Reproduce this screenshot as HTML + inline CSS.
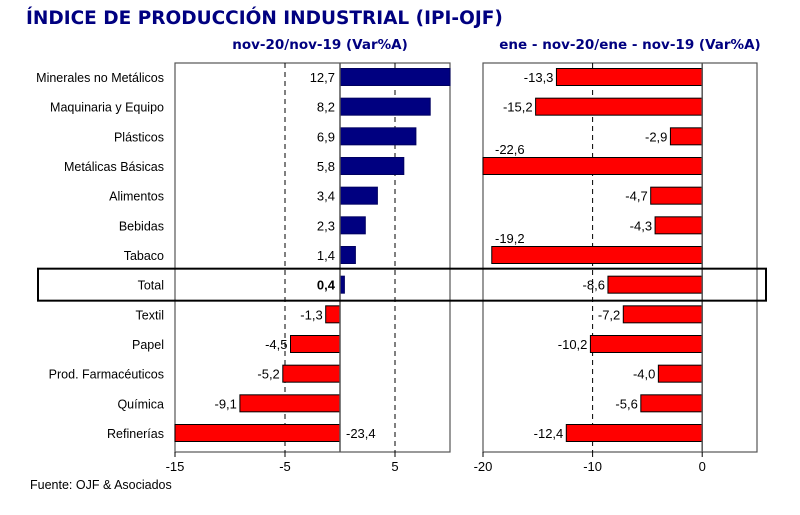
<!DOCTYPE html>
<html><head><meta charset="utf-8"><style>
body{margin:0;background:#fff;width:800px;height:510px;overflow:hidden}
svg text{font-family:"Liberation Sans",sans-serif}
</style></head><body>
<svg id="chart" width="800" height="510" xmlns="http://www.w3.org/2000/svg">
<text x="26" y="24" style="font-family:'DejaVu Sans',sans-serif" font-weight="bold" font-size="18.5" fill="#000080">ÍNDICE DE PRODUCCIÓN INDUSTRIAL (IPI-OJF)</text>
<text x="320" y="49" text-anchor="middle" style="font-family:'DejaVu Sans',sans-serif" font-weight="bold" font-size="13.5" fill="#000080">nov-20/nov-19  (Var%A)</text>
<text x="630" y="49" text-anchor="middle" style="font-family:'DejaVu Sans',sans-serif" font-weight="bold" font-size="13.5" fill="#000080">ene - nov-20/ene - nov-19  (Var%A)</text>
<g id="g"></g>
<text x="30" y="489" font-size="12.5" fill="#000">Fuente: OJF &amp; Asociados</text>
</svg>
<script>
const categories=["Minerales no Metálicos","Maquinaria y Equipo","Plásticos","Metálicas Básicas","Alimentos","Bebidas","Tabaco","Total","Textil","Papel","Prod. Farmacéuticos","Química","Refinerías"];
const monthlyValues=[12.7,8.2,6.9,5.8,3.4,2.3,1.4,0.4,-1.3,-4.5,-5.2,-9.1,-23.4];
const cumulativeValues=[-13.3,-15.2,-2.9,-22.6,-4.7,-4.3,-19.2,-8.6,-7.2,-10.2,-4.0,-5.6,-12.4];
const leftTicks=[-15,-5,5];
const rightTicks=[-20,-10,0];
const NS="http://www.w3.org/2000/svg";
const g=document.getElementById('g');
function el(t,a,txt){const e=document.createElementNS(NS,t);for(const k in a)e.setAttribute(k,a[k]);if(txt!==undefined)e.textContent=txt;g.appendChild(e);return e;}
const plotTop=63,plotBottom=452,row0=77,rowStep=(433-77)/12,barH=17;
const yRow=i=>row0+i*rowStep;
const fmt=v=>v.toFixed(1).replace('.',',');
function panel(vals,min,max,x0,x1,ticks,name,labelMode){
  const sx=v=>x0+(v-min)/(max-min)*(x1-x0);
  let e=el('rect',{x:x0,y:plotTop,width:x1-x0,height:plotBottom-plotTop,fill:'#fff',stroke:'#555','stroke-width':1.2});
  
  ticks.forEach(t=>{
    const x=sx(t);
    if(t!==0&&t!==min){e=el('line',{x1:x,x2:x,y1:plotTop,y2:plotBottom,stroke:'#000','stroke-dasharray':'5,4','stroke-width':1});
    }
    e=el('line',{x1:x,x2:x,y1:plotBottom,y2:plotBottom+5,stroke:'#000'});
    
    e=el('text',{x:x,y:plotBottom+19,'text-anchor':'middle','font-size':13},String(t));
    
  });
  const z=sx(0);
  vals.forEach((v,i)=>{
    const y=yRow(i);
    const cv=Math.max(min,Math.min(max,v));
    const xa=Math.min(sx(cv),z),w=Math.abs(sx(cv)-z);
    const pos=v>=0;
    e=el('rect',{x:xa,y:y-barH/2,width:Math.max(w,2),height:barH,fill:pos?'#000080':'#ff0000',stroke:pos?'#000060':'#000','stroke-width':1});
    
    let lx,ly=y+5,anc='end';
    if(labelMode==='left'){
      if(pos){lx=z-5;}
      else if(v<min){lx=z+6;anc='start';}
      else lx=sx(v)-3;
    }else{
      const endX=sx(cv);
      if(endX-40<x0){lx=x0+12;ly=y-12;anc='start';}
      else lx=endX-3;
    }
    const bold=(labelMode==='left'&&categories[i]==='Total');
    e=el('text',{x:lx,y:ly,'text-anchor':anc,'font-size':13,'font-weight':bold?'bold':'normal'},fmt(v));
    
  });
  e=el('line',{x1:z,x2:z,y1:plotTop,y2:plotBottom,stroke:'#555','stroke-width':1.5});
  
}
panel(monthlyValues,-15,10,175,450,leftTicks,'monthly','left');
panel(cumulativeValues,-20,5,483,757,rightTicks,'cumulative','right');
categories.forEach((c,i)=>{
  const e=el('text',{x:164,y:yRow(i)+5,'text-anchor':'end','font-size':12.5},c);
  
});
const ti=categories.indexOf('Total');
const b=el('rect',{x:38,y:yRow(ti)-16,width:728,height:32,fill:'none',stroke:'#000','stroke-width':2});


</script>
</body></html>
